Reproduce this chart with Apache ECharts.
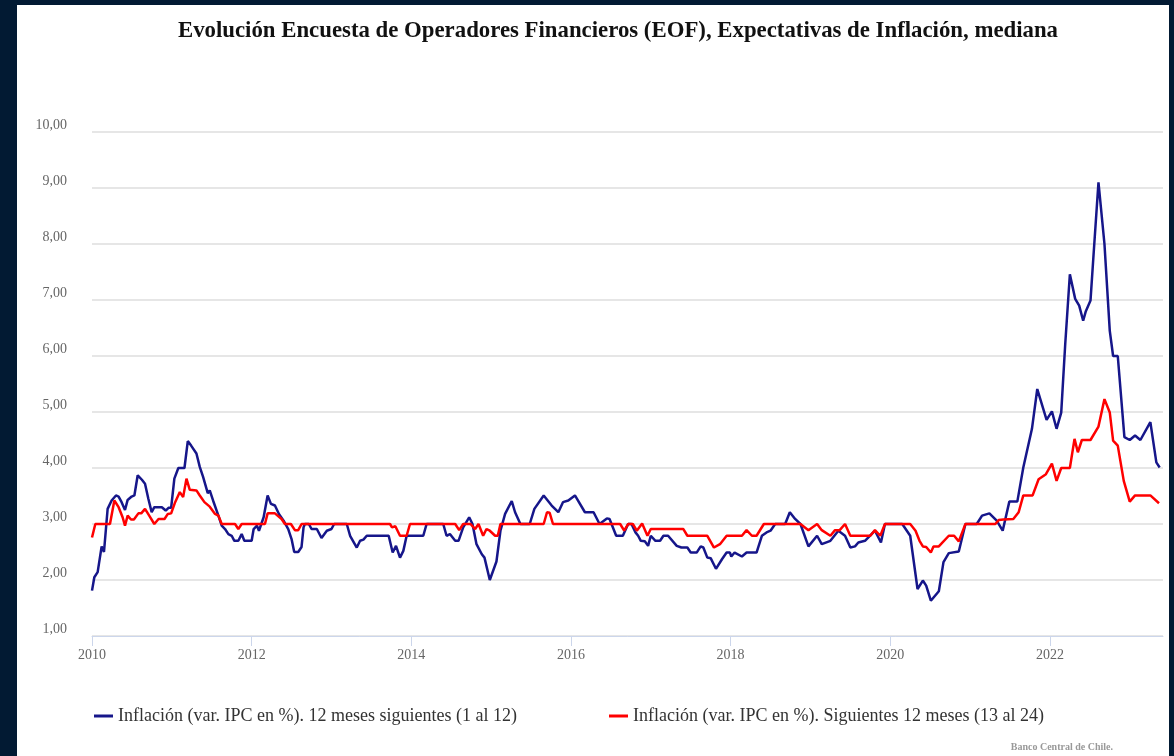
<!DOCTYPE html>
<html>
<head>
<meta charset="utf-8">
<script src="https://cdn.jsdelivr.net/npm/echarts@6/dist/echarts.min.js"></script>
<style>
	html, body { margin: 0; padding: 0; background: #021a33; width: 1174px; height: 756px; overflow: hidden; }
	#chart { position: absolute; left: 17px; top: 5px; width: 1152px; height: 751px; background: #ffffff; }
</style>
</head>
<body>
<div id="chart"></div>
<script>
	// x = meses desde enero 2010
	var mesesCorto = [0,0.35,0.85,1.45,1.8,2.35,2.95,3.6,4.0,4.45,4.96,5.36,5.96,6.37,6.87,7.5,7.97,8.47,8.97,9.37,10.5,11.08,11.5,11.9,12.38,12.98,13.9,14.4,14.9,15.7,16.2,16.7,17.4,17.7,18.2,19.0,19.5,20.0,20.5,21.0,21.4,22.0,22.5,22.9,24.0,24.3,24.8,25.1,25.8,26.4,26.9,27.5,28.1,28.8,29.5,30.0,30.4,31.0,31.5,31.8,32.0,32.6,33.0,33.8,34.5,35.3,36.0,36.4,38.3,38.8,39.8,40.3,40.8,41.3,44.6,45.2,45.7,46.3,46.8,47.3,49.8,50.3,52.8,53.3,53.8,54.6,55.1,55.8,56.7,57.2,57.8,58.6,59.0,59.8,60.8,61.4,62.1,63.1,63.6,64.4,65.8,66.5,67.9,68.2,69.1,70.1,70.8,71.6,72.6,72.9,74.1,75.4,76.3,77.4,77.8,78.8,79.8,80.6,81.1,81.7,82.1,82.5,83.1,83.6,84.0,84.7,85.4,85.9,86.6,87.9,88.6,89.5,90.0,90.9,91.5,91.9,92.5,93.0,93.8,94.7,95.4,95.9,96.1,96.6,97.7,98.4,99.9,100.7,101.4,102.0,102.7,104.2,104.9,105.7,106.5,107.7,109.0,109.7,111.0,112.2,113.2,114.0,114.7,115.2,116.2,117.7,118.6,119.2,121.8,123.0,124.1,124.9,125.4,126.1,127.3,128.0,128.8,130.3,131.3,133.0,133.8,134.9,136.0,136.9,137.9,139.1,140.0,141.3,142.1,143.5,144.3,145.0,145.7,146.3,147.0,147.8,148.4,149.0,149.4,150.1,150.6,151.3,152.2,153.0,153.5,154.2,155.2,156.0,156.8,157.6,159.1,160.0,160.5];
	var inflCorto = [1.81,2.05,2.14,2.6,2.5,3.27,3.42,3.51,3.49,3.39,3.25,3.43,3.49,3.51,3.87,3.79,3.72,3.45,3.21,3.3,3.3,3.24,3.29,3.29,3.81,4.0,4.0,4.48,4.4,4.26,4.02,3.84,3.55,3.6,3.42,3.15,2.97,2.91,2.82,2.79,2.7,2.7,2.82,2.7,2.7,2.91,2.97,2.88,3.12,3.51,3.36,3.33,3.18,3.06,2.91,2.73,2.5,2.5,2.59,2.94,3.0,3.0,2.91,2.91,2.75,2.88,2.91,3.0,3.0,2.79,2.58,2.7,2.72,2.79,2.79,2.49,2.61,2.4,2.52,2.79,2.79,3.0,3.0,2.79,2.82,2.7,2.7,2.94,3.12,3.0,2.64,2.46,2.4,2.0,2.33,2.88,3.18,3.41,3.21,3.0,3.0,3.27,3.51,3.5,3.33,3.21,3.39,3.42,3.51,3.5,3.21,3.21,3.0,3.1,3.09,2.79,2.79,3.0,3.0,2.85,2.79,2.7,2.69,2.61,2.79,2.7,2.7,2.79,2.79,2.61,2.58,2.58,2.49,2.49,2.6,2.58,2.4,2.39,2.2,2.37,2.49,2.49,2.42,2.49,2.42,2.49,2.49,2.79,2.85,2.88,3.0,3.0,3.21,3.09,3.0,2.6,2.79,2.64,2.7,2.88,2.79,2.58,2.6,2.67,2.7,2.88,2.67,3.0,3.0,2.79,1.84,1.99,1.9,1.63,1.8,2.32,2.48,2.51,3.0,3.0,3.15,3.19,3.06,2.88,3.4,3.4,4.01,4.7,5.41,4.86,5.01,4.7,4.99,6.21,7.46,7.02,6.9,6.63,6.8,6.99,7.88,9.1,8.0,6.45,6.0,6.0,4.55,4.5,4.58,4.5,4.82,4.1,4.01];

	var mesesLargo = [0,0.5,2.7,3.36,4.0,4.6,4.96,5.36,5.86,6.3,6.97,7.4,7.97,8.6,9.37,10.0,10.9,11.4,11.9,12.5,13.2,13.7,14.2,14.7,15.7,16.2,16.9,17.7,18.5,19.0,19.5,21.5,22.0,22.5,26.0,26.4,27.5,28.5,29.0,29.9,30.5,31.0,31.5,44.8,45.1,45.6,46.3,47.3,47.8,54.6,55.2,55.8,56.9,57.6,58.1,58.8,59.3,59.8,60.6,61.0,61.4,67.9,68.4,68.8,69.3,79.4,80.0,80.6,81.3,81.9,82.7,83.5,84.0,88.9,89.5,92.5,93.5,94.4,95.4,97.7,98.4,99.2,99.9,101.0,106.5,107.7,109.0,109.7,111.0,111.7,112.4,113.2,114.0,117.0,117.7,118.5,119.2,123.0,123.8,124.4,124.9,125.4,126.1,126.5,127.3,128.8,129.6,130.3,131.3,135.8,136.3,137.0,138.5,139.3,140.0,141.4,142.3,143.4,144.3,145.0,145.7,147.0,147.7,148.2,148.8,150.1,151.3,152.2,153.0,153.5,154.2,155.1,156.0,156.8,159.1,160.4];
	var inflLargo = [2.76,3.0,3.0,3.42,3.3,3.12,2.97,3.15,3.08,3.08,3.19,3.19,3.27,3.15,3.0,3.09,3.09,3.18,3.19,3.39,3.57,3.48,3.81,3.61,3.6,3.51,3.39,3.31,3.18,3.15,3.0,3.0,2.91,3.0,3.0,3.19,3.19,3.09,3.0,3.0,2.89,2.89,3.0,3.0,2.94,2.96,2.79,2.79,3.0,3.0,2.89,3.0,3.0,2.91,3.0,2.79,2.91,2.88,2.79,2.79,3.0,3.0,3.21,3.2,3.0,3.0,2.88,3.0,3.0,2.88,3.01,2.79,2.91,2.91,2.79,2.79,2.58,2.64,2.79,2.79,2.89,2.79,2.79,3.0,3.0,2.89,3.0,2.89,2.79,2.89,2.89,3.0,2.79,2.79,2.89,2.79,3.0,3.0,2.88,2.7,2.6,2.59,2.49,2.6,2.6,2.79,2.79,2.69,3.0,3.0,3.07,3.08,3.09,3.21,3.51,3.51,3.8,3.89,4.08,3.77,4.0,4.0,4.52,4.28,4.5,4.5,4.74,5.23,4.99,4.49,4.4,3.77,3.4,3.51,3.51,3.37];

	var nombreCorto = 'Inflación (var. IPC en %). 12 meses siguientes (1 al 12)';
	var nombreLargo = 'Inflación (var. IPC en %). Siguientes 12 meses (13 al 24)';
	var ticksAnios = [0, 24, 48, 72, 96, 120, 144];

	function pares(xs, ys) {
		var out = [];
		for (var i = 0; i < xs.length; i++) {
			out.push([xs[i], ys[i]]);
		}
		return out;
	}

	var serif = '"Liberation Serif", "DejaVu Serif", serif';
	var chart = echarts.init(document.getElementById('chart'));
	chart.setOption({
		animation: false,
		graphic: [
			{
				type: 'text', x: 601, y: 26,
				style: {
					text: 'Evolución Encuesta de Operadores Financieros (EOF), Expectativas de Inflación, mediana',
					font: 'bold 22.8px ' + serif, fill: '#111111', align: 'center', verticalAlign: 'middle'
				}
			},
			{
				type: 'text', x: 1096, y: 742,
				style: {
					text: 'Banco Central de Chile.',
					font: 'bold 10px ' + serif, fill: '#999999', align: 'right', verticalAlign: 'middle'
				}
			}
		],
		legend: [
			{
				left: 72, top: 697,
				icon: 'rect', itemWidth: 19, itemHeight: 3, itemGap: 10,
				textStyle: { fontFamily: serif, fontSize: 18, color: '#333333' },
				data: [nombreCorto]
			},
			{
				left: 587, top: 697,
				icon: 'rect', itemWidth: 19, itemHeight: 3, itemGap: 10,
				textStyle: { fontFamily: serif, fontSize: 18, color: '#333333' },
				data: [nombreLargo]
			}
		],
		grid: { left: 75, right: 6, top: 127, bottom: 120 },
		xAxis: {
			type: 'value',
			min: 0,
			max: 161,
			interval: 24,
			splitLine: { show: false },
			axisLine: { lineStyle: { color: '#ccd6eb', width: 1 } },
			axisTick: { customValues: ticksAnios, length: 10, lineStyle: { color: '#ccd6eb' } },
			axisLabel: {
				customValues: ticksAnios,
				margin: 12,
				fontFamily: serif, fontSize: 14, color: '#666666',
				formatter: function (v) { return String(2010 + v / 12); }
			}
		},
		yAxis: {
			type: 'value',
			min: 1,
			max: 10,
			interval: 1,
			axisLine: { show: false },
			axisTick: { show: false },
			splitLine: { lineStyle: { color: '#e6e6e6', width: 2 } },
			axisLabel: {
				margin: 25,
				verticalAlign: 'bottom',
				fontFamily: serif, fontSize: 14, color: '#666666',
				formatter: function (v) { return v.toFixed(2).replace('.', ','); }
			}
		},
		series: [
			{
				name: nombreCorto,
				type: 'line',
				showSymbol: false,
				color: '#16168a',
				lineStyle: { width: 2.5 },
				data: pares(mesesCorto, inflCorto)
			},
			{
				name: nombreLargo,
				type: 'line',
				showSymbol: false,
				color: '#ff0000',
				lineStyle: { width: 2.5 },
				z: 3,
				data: pares(mesesLargo, inflLargo)
			}
		]
	});
</script>
</body>
</html>
